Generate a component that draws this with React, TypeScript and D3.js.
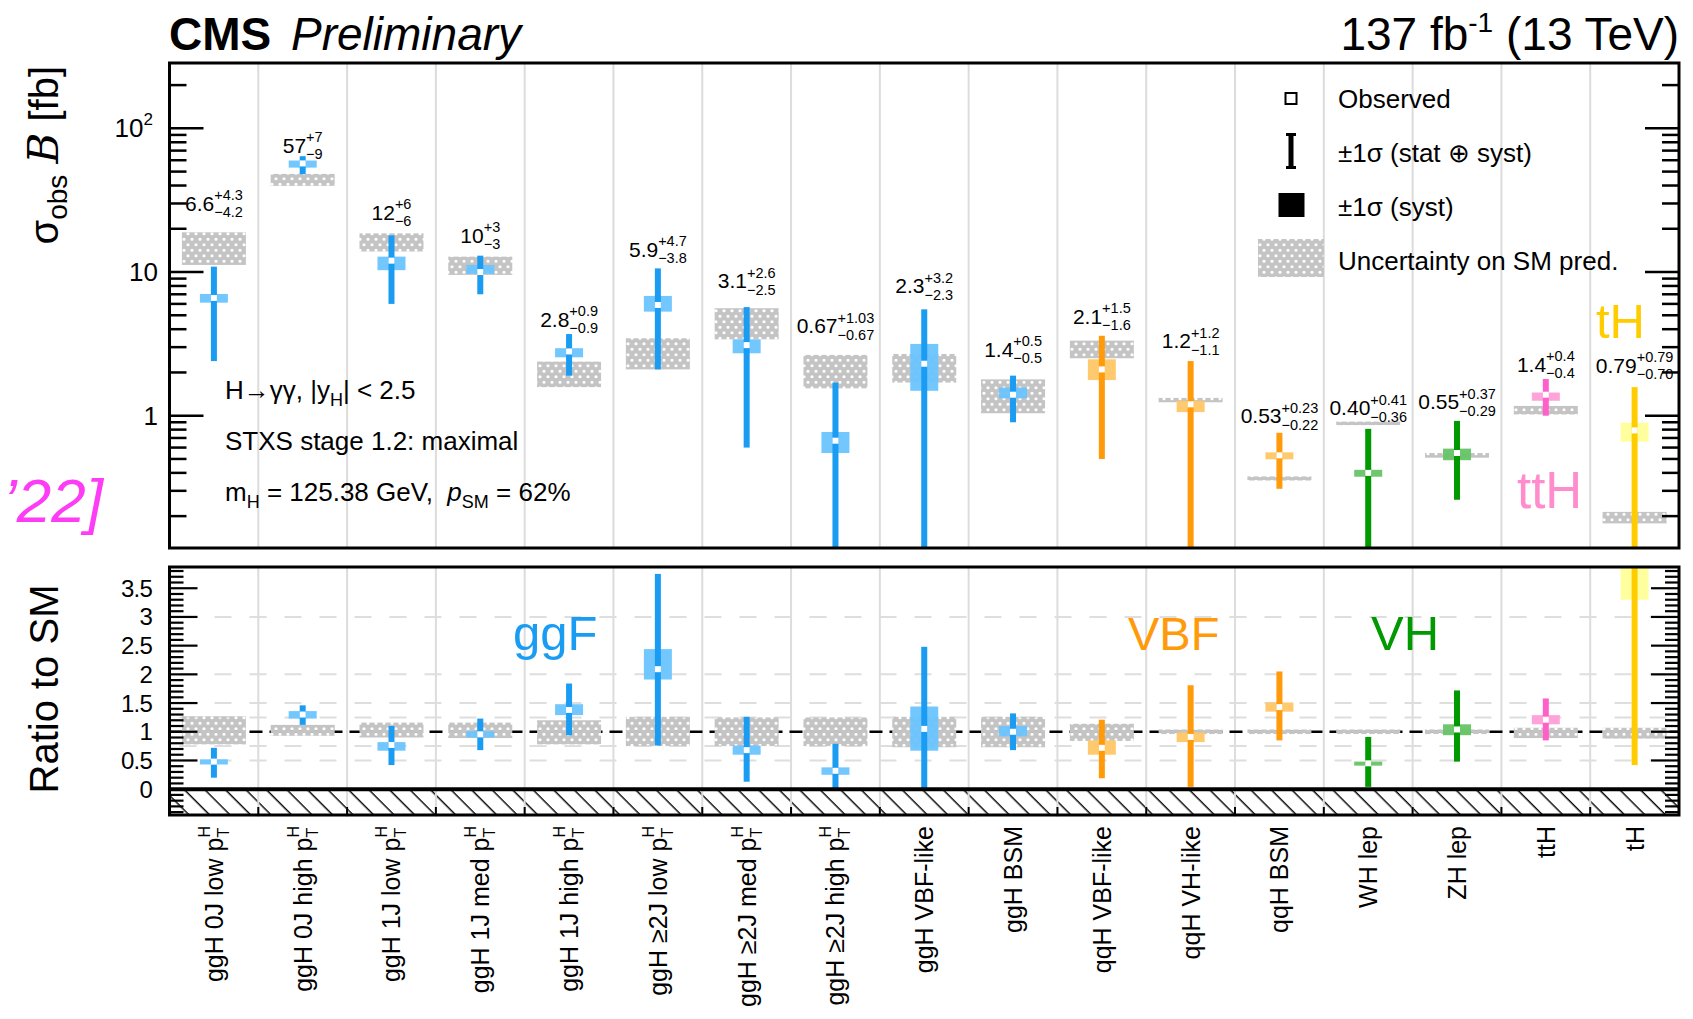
import React from "react";
import * as d3 from "d3";

// ---------------- data ----------------
const categories = [
  "ggH 0J low p_T^H", "ggH 0J high p_T^H", "ggH 1J low p_T^H", "ggH 1J med p_T^H",
  "ggH 1J high p_T^H", "ggH ≥2J low p_T^H", "ggH ≥2J med p_T^H", "ggH ≥2J high p_T^H",
  "ggH VBF-like", "ggH BSM", "qqH VBF-like", "qqH VH-like", "qqH BSM", "WH lep", "ZH lep", "ttH", "tH",
];
const productionMode = ["ggH", "ggH", "ggH", "ggH", "ggH", "ggH", "ggH", "ggH", "ggH", "ggH",
  "VBF", "VBF", "VBF", "VH", "VH", "ttH", "tH"];

// observed cross sections (labels as printed)
const obsText = ["6.6", "57", "12", "10", "2.8", "5.9", "3.1", "0.67", "2.3", "1.4", "2.1", "1.2", "0.53", "0.40", "0.55", "1.4", "0.79"];
const errUpText = ["+4.3", "+7", "+6", "+3", "+0.9", "+4.7", "+2.6", "+1.03", "+3.2", "+0.5", "+1.5", "+1.2", "+0.23", "+0.41", "+0.37", "+0.4", "+0.79"];
const errDownText = ["−4.2", "−9", "−6", "−3", "−0.9", "−3.8", "−2.5", "−0.67", "−2.3", "−0.5", "−1.6", "−1.1", "−0.22", "−0.36", "−0.29", "−0.4", "−0.70"];
// where the value label sits (fb)
const labelAt = [26.8, 67.8, 23.1, 16.0, 4.17, 12.8, 7.71, 3.75, 7.12, 2.58, 4.35, 2.95, 0.885, 1.01, 1.11, 2.02, 1.99];

// syst-only band (fb)
const systLo = [6.12, 53.3, 10.3, 9.7, 2.55, 5.3, 2.72, 0.55, 1.49, 1.32, 1.77, 1.06, 0.497, 0.376, 0.49, 1.27, 0.659];
const systHi = [7.03, 59.7, 12.8, 11.2, 2.95, 6.82, 3.4, 0.77, 3.16, 1.57, 2.47, 1.27, 0.556, 0.42, 0.59, 1.45, 0.894];
// SM prediction uncertainty band (fb)
const smLo = [11.2, 39.8, 13.9, 9.55, 1.58, 2.1, 3.4, 1.55, 1.70, 1.04, 2.51, 1.24, 0.354, 0.86, 0.51, 1.02, 0.178];
const smHi = [18.9, 48.2, 18.6, 12.8, 2.38, 3.46, 5.6, 2.65, 2.69, 1.79, 3.33, 1.33, 0.378, 0.91, 0.55, 1.17, 0.214];

// ratio to SM panel
const ratioObs = [0.48, 1.30, 0.77, 0.955, 1.38, 2.09, 0.68, 0.32, 1.05, 1.0, 0.72, 0.91, 1.43, 0.45, 1.04, 1.21, 3.95];
const ratioLo = [0.20, 1.12, 0.42, 0.68, 0.94, 0.76, 0.13, 0.0, 0.0, 0.68, 0.19, 0.04, 0.85, 0.04, 0.48, 0.85, 0.42];
const ratioHi = [0.72, 1.46, 1.10, 1.23, 1.84, 3.75, 1.26, 0.79, 2.48, 1.32, 1.21, 1.81, 2.05, 0.91, 1.72, 1.58, 7.9];
const ratioSystLo = [0.43, 1.23, 0.67, 0.90, 1.29, 1.91, 0.60, 0.25, 0.67, 0.92, 0.60, 0.82, 1.35, 0.41, 0.94, 1.13, 3.30];
const ratioSystHi = [0.52, 1.36, 0.82, 1.01, 1.48, 2.44, 0.76, 0.38, 1.44, 1.10, 0.85, 0.99, 1.51, 0.48, 1.13, 1.29, 4.6];
const ratioSmLo = [0.78, 0.93, 0.90, 0.89, 0.78, 0.75, 0.75, 0.75, 0.73, 0.73, 0.84, 0.96, 0.96, 0.96, 0.96, 0.89, 0.88];
const ratioSmHi = [1.27, 1.12, 1.16, 1.16, 1.20, 1.26, 1.25, 1.25, 1.26, 1.26, 1.14, 1.04, 1.04, 1.04, 1.04, 1.07, 1.07];

const ratioTickLabels = ["0", "0.5", "1", "1.5", "2", "2.5", "3", "3.5"];
const ratioGrid = [0.5, 0.75, 1.25, 1.5, 2, 3];
const legendLabels = ["Observed", "±1σ (stat ⊕ syst)", "±1σ (syst)", "Uncertainty on SM pred."];

const modeColors: Record<string, { bar: string; box: string; text: string }> = {
  ggH: { bar: "#1a9cf3", box: "#6cc4ff", text: "#1a9cf3" },
  VBF: { bar: "#ff9a0a", box: "#ffc766", text: "#ff9a0a" },
  VH: { bar: "#009a00", box: "#66c466", text: "#009a00" },
  ttH: { bar: "#ff5fc8", box: "#ff9fd8", text: "#ff8ccc" },
  tH: { bar: "#ffcc00", box: "#ffff99", text: "#ffcc00" },
};

// ---------------- layout ----------------
const W = 1693, H = 1019;
const FONT = "'Liberation Sans', Arial, Helvetica, sans-serif";
const xL = 169.5, xR = 1679;
const topT = 63, topB = 548;
const rT = 567, rB = 815;

const num = (s: string) => Math.abs(Number(s.replace("−", "-")));

let ctx: CanvasRenderingContext2D | null = null;
function textW(s: string, size: number) {
  if (!ctx && typeof document !== "undefined") ctx = document.createElement("canvas").getContext("2d");
  if (!ctx) return s.length * size * 0.55;
  ctx.font = `${size}px 'Liberation Sans', Arial`;
  return ctx.measureText(s).width;
}

export default function App() {
  const n = categories.length;
  const x = d3.scaleBand<number>().domain(d3.range(n)).range([xL, xR]).padding(0);
  const bw = x.bandwidth();
  const cx = (i: number) => (x(i) as number) + bw / 2;
  const yT = d3.scaleLog().domain([0.12, 285]).range([topB, topT]);
  const yR = d3.scaleLinear().domain([-0.45, 3.87]).range([rB, rT]);

  const obs = obsText.map(num);
  const up = errUpText.map(num);
  const dn = errDownText.map(num);

  const topTicks: { v: number; major: boolean }[] = [];
  [-1, 0, 1, 2].forEach((k) => {
    for (let m = 1; m <= 9; m++) {
      const v = m * Math.pow(10, k);
      if (v >= 0.12 && v <= 285) topTicks.push({ v, major: m === 1 });
    }
  });
  const rTicks: { v: number; major: boolean }[] = [];
  for (let i = -4; i <= 38; i++) rTicks.push({ v: i / 10, major: i % 5 === 0 });

  const smBoxW = 64, systW = 28, barW = 6, mk = 6;

  return (
    <svg width={W} height={H} style={{ position: "absolute", left: 0, top: 0, background: "#fff" }} fontFamily={FONT}>
      <defs>
        <pattern id="smHatch" patternUnits="userSpaceOnUse" width="8" height="11">
          <path
            fill="#c4c4c4"
            fillRule="evenodd"
            d="M0,0H8V11H0Z M2.4,2.75a1.6,1.6 0 1,0 3.2,0a1.6,1.6 0 1,0 -3.2,0Z M-1.6,8.25a1.6,1.6 0 1,0 3.2,0a1.6,1.6 0 1,0 -3.2,0Z M6.4,8.25a1.6,1.6 0 1,0 3.2,0a1.6,1.6 0 1,0 -3.2,0Z"
          />
        </pattern>
        <pattern id="negHatch" patternUnits="userSpaceOnUse" width="14.5" height="14.5" patternTransform="rotate(-45)">
          <line x1="7" y1="-2" x2="7" y2="17" stroke="#000" strokeWidth="1.4" />
        </pattern>
        <clipPath id="clipTop"><rect x={xL} y={topT} width={xR - xL} height={topB - topT} /></clipPath>
        <clipPath id="clipR"><rect x={xL} y={rT} width={xR - xL} height={rB - rT} /></clipPath>
      </defs>

      {/* header */}
      <text x={169} y={50} fontSize={46} fontWeight="bold">CMS</text>
      <text x={291} y={50} fontSize={46} fontStyle="italic">Preliminary</text>
      <text x={xR} y={50} fontSize={46} textAnchor="end">
        137 fb<tspan fontSize={28} dy={-18}>-1</tspan><tspan dy={18}> (13 TeV)</tspan>
      </text>

      {/* partial magenta overlay text at left */}
      <text x={3} y={522} fontSize={62} fontStyle="italic" fill="#ff3cf5">’22]</text>

      {/* axis titles */}
      <text transform={`translate(58,66) rotate(-90)`} textAnchor="end" fontSize={40}>
        σ<tspan fontSize={28} dy={9}>obs</tspan>
        <tspan dy={-9}>{"\u00a0"}</tspan>
        <tspan fontFamily="'DejaVu Serif', 'Liberation Serif', serif" fontStyle="italic" fontSize={42}>B</tspan>
        <tspan>{"\u00a0[fb]"}</tspan>
      </text>
      <text transform={`translate(58,689) rotate(-90)`} textAnchor="middle" fontSize={40}>Ratio to SM</text>

      {/* ---------- top panel ---------- */}
      <g>
        {d3.range(1, n).map((i) => (
          <line key={"sepT" + i} x1={x(i)} x2={x(i)} y1={topT} y2={topB} stroke="#dcdcdc" strokeWidth={2} />
        ))}
        <g clipPath="url(#clipTop)">
          {d3.range(n).map((i) => (
            <rect key={"smT" + i} x={cx(i) - smBoxW / 2} width={smBoxW} y={yT(smHi[i])} height={yT(smLo[i]) - yT(smHi[i])} fill="url(#smHatch)" />
          ))}
          {d3.range(n).map((i) => {
            const c = modeColors[productionMode[i]];
            const lo = Math.max(obs[i] - dn[i], 0.05);
            return (
              <g key={"obsT" + i}>
                <rect x={cx(i) - systW / 2} width={systW} y={yT(systHi[i])} height={yT(systLo[i]) - yT(systHi[i])} fill={c.box} opacity={0.95} />
                <rect x={cx(i) - barW / 2} width={barW} y={yT(obs[i] + up[i])} height={yT(lo) - yT(obs[i] + up[i])} fill={c.bar} />
                <rect x={cx(i) - mk / 2} y={yT(obs[i]) - mk / 2} width={mk} height={mk} fill="#fff" />
              </g>
            );
          })}
        </g>
        {/* ticks */}
        {topTicks.map((t, k) => {
          const len = t.major ? 34 : 17;
          const y = yT(t.v);
          return (
            <g key={"tt" + k}>
              <line x1={xL} x2={xL + len} y1={y} y2={y} stroke="#000" strokeWidth={2.5} />
              <line x1={xR} x2={xR - len} y1={y} y2={y} stroke="#000" strokeWidth={2.5} />
            </g>
          );
        })}
        <text x={158} y={yT(1) + 9} fontSize={26} textAnchor="end">1</text>
        <text x={158} y={yT(10) + 9} fontSize={26} textAnchor="end">10</text>
        <text x={153} y={yT(100) + 9} fontSize={26} textAnchor="end">10<tspan fontSize={17} dy={-12}>2</tspan></text>
        <rect x={xL} y={topT} width={xR - xL} height={topB - topT} fill="none" stroke="#000" strokeWidth={3} />

        {/* value labels */}
        {d3.range(n).map((i) => {
          const mw = textW(obsText[i], 21);
          const sw = Math.max(textW(errUpText[i], 14.5), textW(errDownText[i], 14.5));
          const x0 = cx(i) - (mw + sw) / 2;
          const yb = yT(labelAt[i]);
          return (
            <g key={"lab" + i}>
              <text x={x0} y={yb} fontSize={21}>{obsText[i]}</text>
              <text x={x0 + mw} y={yb - 10.5} fontSize={14.5}>{errUpText[i]}</text>
              <text x={x0 + mw} y={yb + 6.5} fontSize={14.5}>{errDownText[i]}</text>
            </g>
          );
        })}

        {/* annotations */}
        <text x={225} y={399} fontSize={26}>
          H→γγ, |y<tspan fontSize={18} dy={7}>H</tspan><tspan dy={-7}>| &lt; 2.5</tspan>
        </text>
        <text x={225} y={450} fontSize={26}>STXS stage 1.2: maximal</text>
        <text x={225} y={501} fontSize={26}>
          m<tspan fontSize={18} dy={7}>H</tspan><tspan dy={-7}>{" = 125.38 GeV,\u00a0\u00a0"}</tspan>
          <tspan fontStyle="italic">p</tspan><tspan fontSize={18} dy={7}>SM</tspan><tspan dy={-7}> = 62%</tspan>
        </text>

        {/* legend */}
        <rect x={1285.5} y={93} width={11} height={11} fill="#fff" stroke="#000" strokeWidth={2} />
        <rect x={1288.5} y={134} width={5} height={34} fill="#000" />
        <rect x={1286} y={133} width={10} height={3} fill="#000" />
        <rect x={1286} y={166} width={10} height={3} fill="#000" />
        <rect x={1278.5} y={193} width={26} height={24} fill="#000" />
        <rect x={1258} y={239} width={66} height={38} fill="url(#smHatch)" />
        {legendLabels.map((s, k) => (
          <text key={"lg" + k} x={1338} y={108 + k * 54} fontSize={26}>{s}</text>
        ))}

        <text x={1517} y={508} fontSize={51} fill={modeColors.ttH.text}>ttH</text>
        <text x={1596} y={338} fontSize={49} fill={modeColors.tH.text}>tH</text>
      </g>

      {/* ---------- ratio panel ---------- */}
      <g>
        <rect x={xL} y={yR(0)} width={xR - xL} height={rB - yR(0)} fill="url(#negHatch)" />
        {d3.range(1, n).map((i) => (
          <line key={"sepR" + i} x1={x(i)} x2={x(i)} y1={rT} y2={rB + 2} stroke="#dcdcdc" strokeWidth={2} />
        ))}
        {ratioGrid.map((g) => (
          <line key={"rg" + g} x1={xL} x2={xR} y1={yR(g)} y2={yR(g)} stroke="#dedede" strokeWidth={2} strokeDasharray="17 18" strokeDashoffset={-10} />
        ))}
        <line x1={xL} x2={xR} y1={yR(1)} y2={yR(1)} stroke="#000" strokeWidth={2.5} strokeDasharray="13 7" />
        <g clipPath="url(#clipR)">
          {d3.range(n).map((i) => (
            <rect key={"smR" + i} x={cx(i) - smBoxW / 2} width={smBoxW} y={yR(ratioSmHi[i])} height={yR(ratioSmLo[i]) - yR(ratioSmHi[i])} fill="url(#smHatch)" />
          ))}
          {d3.range(n).map((i) => {
            const c = modeColors[productionMode[i]];
            return (
              <g key={"obsR" + i}>
                <rect x={cx(i) - systW / 2} width={systW} y={yR(ratioSystHi[i])} height={yR(ratioSystLo[i]) - yR(ratioSystHi[i])} fill={c.box} opacity={0.95} />
                <rect x={cx(i) - barW / 2} width={barW} y={yR(ratioHi[i])} height={yR(ratioLo[i]) - yR(ratioHi[i])} fill={c.bar} />
                <rect x={cx(i) - mk / 2} y={yR(ratioObs[i]) - mk / 2} width={mk} height={mk} fill="#fff" />
              </g>
            );
          })}
        </g>
        <line x1={xL} x2={xR} y1={yR(0)} y2={yR(0)} stroke="#000" strokeWidth={4} />
        {rTicks.map((t, k) => {
          const len = t.major ? 28 : 14;
          const y = yR(t.v);
          return (
            <g key={"rt" + k}>
              <line x1={xL} x2={xL + len} y1={y} y2={y} stroke="#000" strokeWidth={2.2} />
              <line x1={xR} x2={xR - len} y1={y} y2={y} stroke="#000" strokeWidth={2.2} />
            </g>
          );
        })}
        {ratioTickLabels.map((s) => (
          <text key={"rl" + s} x={152} y={yR(Number(s)) + 8.5} fontSize={24} textAnchor="end" letterSpacing={-0.8}>{s}</text>
        ))}
        {d3.range(1, n).map((i) => (
          <line key={"xt" + i} x1={x(i)} x2={x(i)} y1={rB} y2={rB - 8} stroke="#000" strokeWidth={2} />
        ))}
        <rect x={xL} y={rT} width={xR - xL} height={rB - rT} fill="none" stroke="#000" strokeWidth={3} />

        <text x={513} y={650} fontSize={49} fill={modeColors.ggH.text}>ggF</text>
        <text x={1128} y={650} fontSize={47} fill={modeColors.VBF.text}>VBF</text>
        <text x={1371} y={650} fontSize={49} fill={modeColors.VH.text}>VH</text>
      </g>

      {/* x category labels */}
      {categories.map((c, i) => {
        const parts = c.split("p_T^H");
        const hasPt = parts.length > 1;
        const tw = textW("T", 16);
        return (
          <text key={"xl" + i} transform={`translate(${cx(i) + 9},826) rotate(-90)`} textAnchor="end" fontSize={25}>
            {hasPt ? parts[0] + "p" : c}
            {hasPt && <tspan fontSize={16} dy={6}>T</tspan>}
            {hasPt && <tspan fontSize={16} dx={-tw} dy={-19}>H</tspan>}
          </text>
        );
      })}
    </svg>
  );
}
